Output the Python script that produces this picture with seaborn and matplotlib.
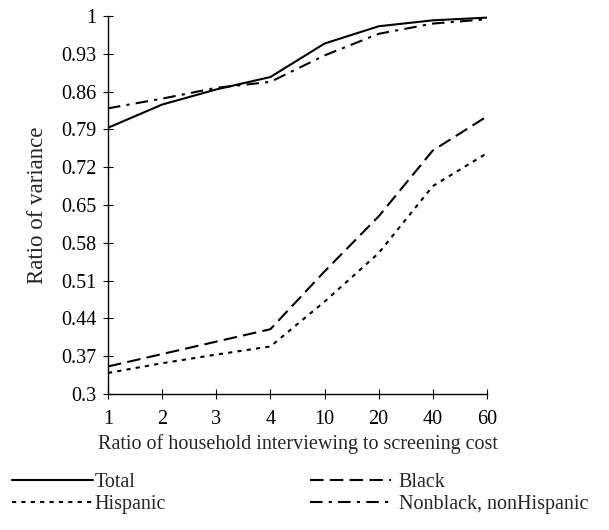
import pandas as pd
import numpy as np
from matplotlib import pyplot as plt
from matplotlib.lines import Line2D
import seaborn as sns

sns.set_style('white')
plt.rcParams['font.family'] = ['Liberation Serif', 'DejaVu Serif']

# Ratio of household interviewing to screening cost
cost_ratio = ['1', '2', '3', '4', '10', '20', '40', '60']

# Ratio of variance for each group
total = [0.793, 0.836, 0.864, 0.887, 0.949, 0.981, 0.992, 0.997]
black = [0.351, 0.374, 0.397, 0.420, 0.527, 0.629, 0.751, 0.814]
hispanic = [0.339, 0.357, 0.373, 0.388, 0.471, 0.561, 0.685, 0.746]
nonblack = [0.829, 0.847, 0.867, 0.878, 0.927, 0.967, 0.986, 0.994]

yticks = [0.3, 0.37, 0.44, 0.51, 0.58, 0.65, 0.72, 0.79, 0.86, 0.93, 1]
ytick_labels = ['0.3', '0.37', '0.44', '0.51', '0.58', '0.65', '0.72',
                '0.79', '0.86', '0.93', '1']

groups = {'Total': total, 'Black': black, 'Hispanic': hispanic,
          'Nonblack, nonHispanic': nonblack}
df = pd.concat([pd.DataFrame({'cost': cost_ratio, 'variance': v, 'group': g})
                for g, v in groups.items()], ignore_index=True)

dash_styles = {'Total': '',
               'Black': (6.5, 3),
               'Hispanic': (2, 2.5),
               'Nonblack, nonHispanic': (6, 3, 1.5, 3)}

fs = 14.5
fig = plt.figure(figsize=(6.09, 5.30), dpi=100)
ax = fig.add_axes([0.1773, 0.2566, 0.6223, 0.7132])
sns.lineplot(data=df, x='cost', y='variance', style='group', dashes=dash_styles,
             color='black', linewidth=1.5, legend=False, ax=ax, sort=False)

ax.set_xlim(0, len(cost_ratio) - 1)
ax.set_ylim(0.3, 1)
ax.set_yticks(yticks)
ax.set_yticklabels(ytick_labels)
ax.tick_params(axis='both', direction='inout', length=7, width=0.8,
               labelsize=fs, colors='black', left=True, bottom=True)
ax.tick_params(axis='x', pad=8)
ax.tick_params(axis='y', pad=5)
for s in ['top', 'right']:
    ax.spines[s].set_visible(False)
for s in ['left', 'bottom']:
    ax.spines[s].set_color('black')
    ax.spines[s].set_linewidth(1.0)
ax.set_xlabel('Ratio of household interviewing to screening cost', fontsize=fs,
              labelpad=4)
ax.set_ylabel('Ratio of variance', fontsize=16.5)
ax.yaxis.set_label_coords(-0.158, 0.5)


def make_handle(g):
    d = dash_styles[g]
    if d:
        return Line2D([], [], color='black', linewidth=1.5, dashes=d)
    return Line2D([], [], color='black', linewidth=1.5)


legend_kw = dict(loc='upper left', frameon=False, fontsize=fs, handlelength=4.0,
                 borderpad=0, borderaxespad=0, labelspacing=0.15)
col1 = ['Total', 'Hispanic']
col2 = ['Black', 'Nonblack, nonHispanic']
leg1 = fig.legend([make_handle(g) for g in col1], col1,
                  bbox_to_anchor=(12 / 609, 1 - 473 / 530),
                  handletextpad=0.1, **legend_kw)
leg2 = fig.legend([make_handle(g) for g in col2], col2,
                  bbox_to_anchor=(310 / 609, 1 - 473 / 530),
                  handletextpad=0.4, **legend_kw)

fig.savefig('out.png', dpi=100)
